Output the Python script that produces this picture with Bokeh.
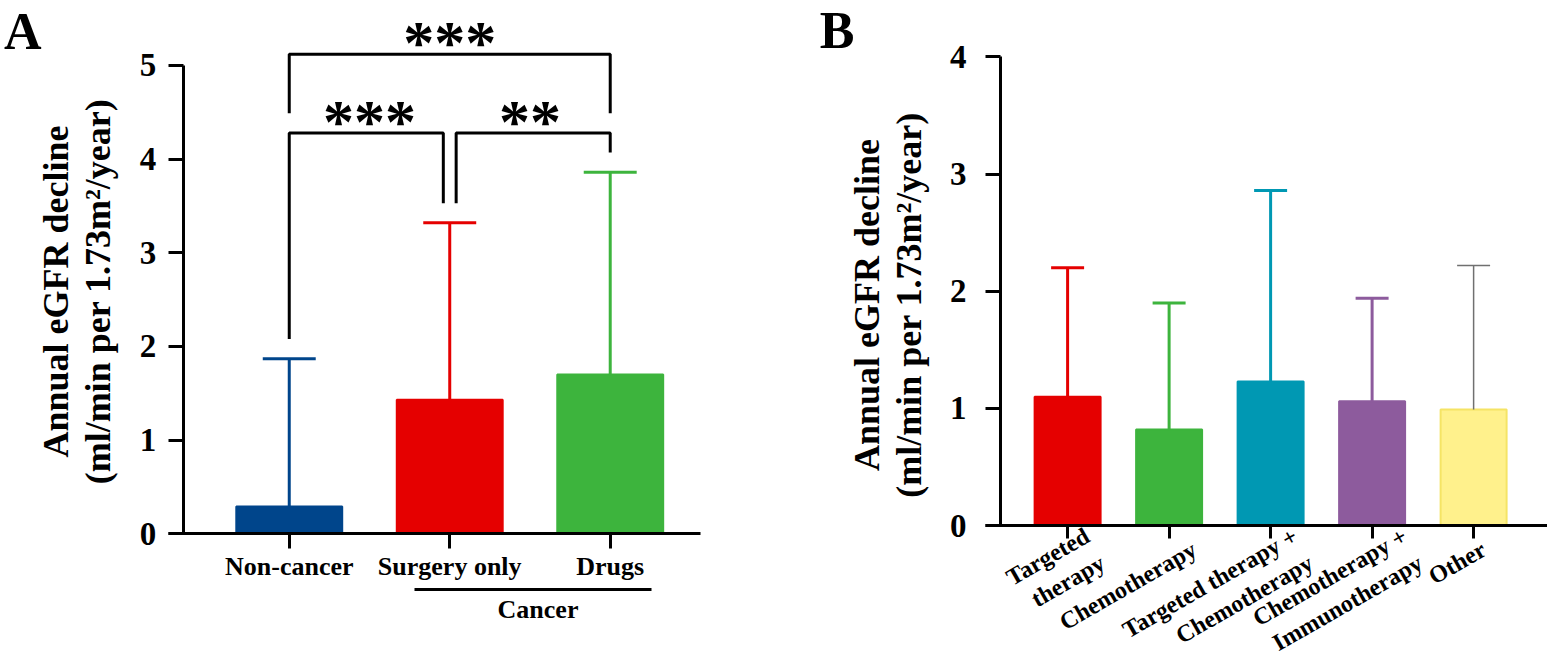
from bokeh.plotting import figure
from bokeh.layouts import row
from bokeh.models import FixedTicker, LinearAxis, Range1d
from bokeh.embed import file_html
from bokeh.resources import INLINE
from bokeh.core.properties import value

# ---- panel A data ----
groups_a = ["Non-cancer", "Surgery only", "Drugs"]
mean_a = [0.29, 1.43, 1.70]
upper_a = [1.87, 3.32, 3.86]          # mean + SD
colors_a = ["#00458B", "#E50000", "#3DB43D"]
comparisons_a = [(0, 1, "***"), (1, 2, "**"), (0, 2, "***")]
cancer_groups = (1, 2)                # categories under the "Cancer" line

# ---- panel B data ----
groups_b = ["Targeted\ntherapy", "Chemotherapy", "Targeted therapy +\nChemotherapy",
            "Chemotherapy +\nImmunotherapy", "Other"]
mean_b = [1.10, 0.82, 1.23, 1.06, 0.99]
upper_b = [2.20, 1.90, 2.86, 1.94, 2.22]
colors_b = ["#E50000", "#3DB43D", "#0098B3", "#8D5B9D", "#FFF18C"]
edges_b = ["#E50000", "#3DB43D", "#0098B3", "#8D5B9D", "#F5E465"]
err_colors_b = ["#E50000", "#3DB43D", "#0098B3", "#8D5B9D", "#707070"]
err_width_b = [3, 3, 3, 3, 1.5]

FONT = "Liberation Serif"
YLABEL = ["Annual eGFR decline", "(ml/min per 1.73m\u00b2/year)"]


# the frame fills the whole height, axes sit at fixed data positions inside it
def make_fig(width, xr, yr, left):
    p = figure(width=width, height=663, x_range=Range1d(*xr), y_range=Range1d(*yr),
               output_backend="svg", toolbar_location=None, title=None,
               min_border=0, min_border_left=left)
    p.outline_line_color = None
    p.grid.visible = False
    return p


def style_axis(ax, font_size, tick_len):
    ax.axis_line_width = 3
    ax.major_tick_line_width = 3
    ax.major_tick_out = tick_len
    ax.major_tick_in = 0
    ax.minor_tick_line_color = None
    ax.major_label_text_font = FONT
    ax.major_label_text_font_style = "bold"
    ax.major_label_text_font_size = font_size
    ax.major_label_text_color = "black"


def text_axis(ticks, labels, size, standoff, **kw):
    # axis used only to place text (tick labels)
    return LinearAxis(ticker=FixedTicker(ticks=ticks),
                      major_label_overrides=dict(zip(ticks, labels)),
                      major_tick_line_color=None, minor_tick_line_color=None,
                      major_tick_out=0, major_tick_in=0,
                      major_label_standoff=standoff, major_label_text_font=FONT,
                      major_label_text_font_style="bold", major_label_text_font_size=size,
                      major_label_text_color="black", **kw)


def title_axis(ax, standoff, pad):
    # left axis that only carries the y title; the no-break spaces lift it
    # above the middle of the frame as in the original
    ax.ticker = FixedTicker(ticks=[])
    ax.axis_line_color = None
    ax.major_tick_line_color = None
    ax.minor_tick_line_color = None
    ax.axis_label = "\n".join("\u00a0" * pad + t for t in YLABEL)
    ax.axis_label_text_font = FONT
    ax.axis_label_text_font_style = "bold"
    ax.axis_label_text_font_size = "36px"
    ax.axis_label_text_line_height = 1.05
    ax.axis_label_text_color = "black"
    ax.axis_label_standoff = standoff


def value_axis(p, ticks, x0, standoff):
    ax = LinearAxis(fixed_location=x0, ticker=FixedTicker(ticks=ticks),
                    bounds=(ticks[0], ticks[-1]))
    style_axis(ax, "33px", 15)
    ax.major_label_standoff = standoff
    p.add_layout(ax, "left")


def bars(p, means, uppers, fills, edges, err_colors, err_widths, width):
    xs = list(range(len(means)))
    p.vbar(x=xs, top=means, bottom=0, width=width, fill_color=fills,
           line_color=edges, line_width=2)
    cap = width / 4
    p.segment(x0=xs, y0=means, x1=xs, y1=uppers, line_color=err_colors,
              line_width=err_widths)
    p.segment(x0=[x - cap for x in xs], y0=uppers, x1=[x + cap for x in xs],
              y1=uppers, line_color=err_colors, line_width=err_widths)


# ================= panel A =================
pa = make_fig(806, (-0.958, 3.223), (-1.385, 5.694), 134)
bars(pa, mean_a, upper_a, colors_a, colors_a, colors_a, [3] * 3, 0.66)

title_axis(pa.yaxis[0], 18, 9)
value_axis(pa, [0, 1, 2, 3, 4, 5], -0.661, 12)
pa.add_layout(text_axis([5.417], ["A"], "52px", -9, axis_line_color=None), "left")

xa = pa.xaxis[0]
style_axis(xa, "26px", 15)
xa.fixed_location = 0
xa.bounds = (-0.755, 2.564)
xa.ticker = FixedTicker(ticks=list(range(len(groups_a))))
xa.major_label_overrides = {i: g for i, g in enumerate(groups_a)}
xa.major_label_standoff = 3

# significance brackets
leg = 0.21
level_lo = max(upper_a) + 2 * leg
level_hi = level_lo + 4 * leg
adjacent = [c for c in comparisons_a if c[1] - c[0] == 1]
ends = [c[0] for c in adjacent] + [c[1] for c in adjacent]
shared = {k for k in ends if ends.count(k) > 1}
bx, by, sx, sy, st = [], [], [], [], []
for i, j, stars in comparisons_a:
    if j - i == 1:
        xi = i + (0.04 if i in shared else 0)
        xj = j - (0.04 if j in shared else 0)
        lvl = level_lo
        yi, yj = upper_a[i] + leg, upper_a[j] + leg
    else:
        xi, xj = i, j
        lvl = level_hi
        yi = yj = level_lo + leg
    bx.append([xi, xi, xj, xj])
    by.append([yi, lvl, lvl, yj])
    sx.append((i + j) / 2)
    sy.append(lvl + 0.13)
    st.append(stars)
pa.multi_line(xs=bx, ys=by, line_color="black", line_width=3)
pa.text(x=sx, y=sy, text=st, text_font=value(FONT), text_font_size="62px",
        text_font_style="bold", text_align="center", text_baseline="alphabetic",
        text_color="black")

# "Cancer" grouping line with its label
c_lo, c_hi = cancer_groups[0] - 0.22, cancer_groups[1] + 0.26
pa.add_layout(text_axis([(c_lo + c_hi) / 2 + 0.03], ["Cancer"], "26px", 5,
                        fixed_location=-0.598, bounds=(c_lo, c_hi),
                        axis_line_width=3), "below")

# ================= panel B =================
pb = make_fig(741, (-1.203, 4.728), (-1.178, 4.482), 139)
bars(pb, mean_b, upper_b, colors_b, edges_b, err_colors_b, err_width_b, 0.65)

title_axis(pb.yaxis[0], 17, 6)
value_axis(pb, [0, 1, 2, 3, 4], -0.661, 19)
pb.add_layout(text_axis([4.25], ["B"], "52px", -11, axis_line_color=None), "left")

# rotated labels sit a little right of their ticks; the ticks are minor ticks
label_nudge = [0.27, 0.25, 0.32, 0.40, 0.10]
lab_pos = [i + d for i, d in enumerate(label_nudge)]
xb = pb.xaxis[0]
style_axis(xb, "24px", 0)
xb.fixed_location = 0
xb.bounds = (-0.81, 4.728)
xb.ticker = FixedTicker(ticks=lab_pos, minor_ticks=list(range(len(groups_b))))
xb.major_label_overrides = dict(zip(lab_pos, groups_b))
xb.major_tick_line_color = None
xb.minor_tick_line_color = "black"
xb.minor_tick_line_width = 3
xb.minor_tick_out = 13
xb.minor_tick_in = 0
xb.major_label_orientation = 0.52
xb.major_label_standoff = 9

layout = row(pa, pb)
open("out.html", "w").write(file_html(layout, INLINE))
